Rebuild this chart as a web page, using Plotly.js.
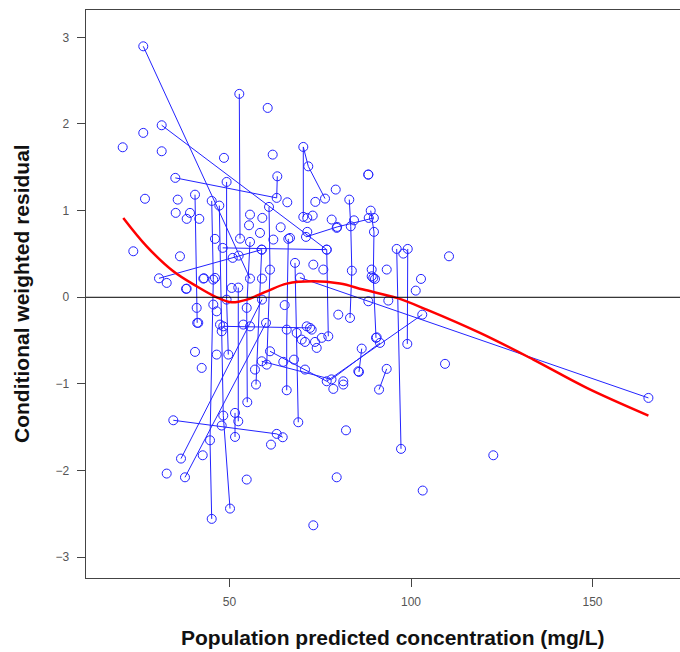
<!DOCTYPE html>
<html>
<head>
<meta charset="utf-8">
<script src="https://cdn.plot.ly/plotly-3.0.1.min.js"></script>
<style>html,body{margin:0;padding:0;background:#fff;overflow:hidden}</style>
</head>
<body>
<div id="chart" style="width:680px;height:652px"></div>
<script>
// Observations grouped by subject (null separates subjects; single points are lone observations)
var predX = [
  26.25,55.65,null,
  31.32,76.78,48.13,null,
  35.07,63.0,63.17,null,
  52.7,52.9,null,
  70.33,70.33,71.7,76.31,null,
  83.0,83.4,83.7,83.2,null,
  88.9,89.8,89.61,90.36,null,
  96.06,97.25,null,
  99.1,98.98,null,
  61.16,76.78,103.1,null,
  165.4,69.4,null,
  93.3,91.2,null,
  34.52,63.0,64.66,null,
  36.64,58.95,null,
  37.74,60.06,null,
  45.1,45.54,44.63,45.1,null,
  47.19,48.29,50.14,null,
  52.42,52.42,null,
  51.52,51.52,null,
  54.9,54.74,55.65,null,
  68.95,68.51,68.04,null,
  65.76,65.76,66.2,null,
  57.3,58.87,null,
  85.67,86.42,null,
  40.5,40.96,41.1,null,
  49.2,49.2,49.67,null,
  60.88,61.16,60.25,null,
  30.58,58.87,null,
  71.07,79.66,89.77,null,
  58.87,78.1,91.46,null,
  48.29,72.18,null,
  77.22,76.78,null,
  20.58,null,26.25,null,31.32,null,26.72,null,35.73,null,35.18,null,38.21,null,39.12,null,41.68,null,
  48.48,null,61.9,null,60.52,null,88.24,null,55.65,null,55.37,null,58.4,null,59.04,null,65.92,null,
  64.1,null,62.07,null,66.67,null,73.64,null,79.26,null,71.43,null,72.92,null,71.43,null,78.15,null,
  79.53,null,84.3,null,88.35,null,97.88,null,110.47,null,23.5,null,36.36,null,46.0,null,50.88,null,
  52.53,null,32.7,null,38.02,null,42.98,null,46.0,null,42.78,null,38.21,null,50.61,null,73.09,null,
  75.84,null,89.17,null,93.31,null,89.17,null,90.08,null,102.75,null,101.3,null,88.24,null,93.75,null,
  45.54,null,46.47,null,41.4,null,53.8,null,47.38,null,47.85,null,55.65,null,71.27,null,72.64,null,
  75.4,null,79.97,null,69.89,null,70.8,null,73.55,null,74.02,null,90.55,null,40.5,null,42.34,null,
  46.47,null,57.02,null,64.82,null,67.77,null,70.8,null,81.35,null,85.48,null,78.6,null,81.35,null,
  109.37,null,47.85,null,82.09,null,61.43,null,42.62,null,54.74,null,32.7,null,122.67,null,
  103.22,null,73.09,null,79.53,null,88.24,null,58.95,null,65.2,null
];
var cwres = [
  2.896,0.216,null,
  1.985,0.550,0.570,null,
  1.378,1.147,1.396,null,
  2.347,0.677,null,
  0.928,1.735,1.511,1.139,null,
  1.127,0.819,0.307,-0.238,null,
  1.0,0.755,0.224,-0.468,null,
  0.558,-1.749,null,
  0.558,-0.538,null,
  -0.623,-0.969,-0.2,null,
  -1.161,0.227,null,
  -0.826,-1.065,null,
  -1.419,-1.576,-1.615,null,
  -1.861,-0.027,null,
  -2.077,-0.295,null,
  1.112,0.204,-1.65,-2.557,null,
  1.058,-1.365,-2.438,null,
  0.112,-1.431,null,
  -1.334,-1.611,null,
  -1.211,-0.122,0.639,null,
  -1.442,-0.411,0.397,null,
  -1.073,-0.373,0.674,null,
  -1.007,0.550,null,
  -0.861,-0.592,null,
  1.184,-0.122,-0.295,null,
  1.331,-0.027,-0.661,null,
  1.043,0.319,-0.777,null,
  0.219,0.550,null,
  0.697,0.812,0.916,null,
  -0.738,-0.947,-0.526,null,
  -0.335,-0.353,null,
  -0.45,0.55,null,
  1.731,null,1.897,null,1.685,null,1.137,null,1.127,null,0.974,null,0.905,null,0.974,null,0.905,null,
  1.609,null,1.646,null,2.185,null,1.416,null,0.954,null,0.831,null,0.743,null,0.916,null,1.096,null,
  0.808,null,0.666,null,0.685,null,1.101,null,1.243,null,0.916,null,0.943,null,0.755,null,0.897,null,
  0.801,null,0.888,null,0.916,null,0.504,null,0.473,null,0.531,null,0.473,null,0.674,null,0.455,null,
  0.481,null,0.166,null,0.097,null,0.219,null,0.224,null,0.216,null,0.1,null,0.108,null,0.377,null,
  0.32,null,0.32,null,0.32,null,0.242,null,0.212,null,0.212,null,0.077,null,-0.046,null,-0.038,null,
  -0.084,null,-0.162,null,-0.295,null,-0.315,null,-0.315,null,-0.392,null,-0.335,null,-0.335,null,-0.373,null,
  -0.468,null,-0.2,null,-0.488,null,-0.515,null,-0.515,null,-0.584,null,-0.462,null,-0.63,null,-0.815,null,
  -0.661,null,-0.834,null,-0.745,null,-0.719,null,-0.834,null,-0.969,null,-0.854,null,-1.057,null,-1.007,null,
  -0.768,null,-1.48,null,-1.535,null,-1.7,null,-1.823,null,-2.103,null,-2.034,null,-1.823,null,
  -2.23,null,-2.631,null,-2.077,null,1.416,null,0.216,null,-0.09,null
];
// Loess smooth (red)
var smoothX = [20.74,27.19,34.52,40.96,46.47,50.61,54.74,60.25,65.76,73.09,80.44,86.86,96.06,104.33,119.0,133.7,148.4,165.4];
var smoothY = [0.916,0.588,0.300,0.127,0.0,-0.058,-0.027,0.069,0.158,0.185,0.158,0.089,-0.007,-0.142,-0.411,-0.719,-1.045,-1.365];

var xTicks = [50,100,150];
var yTicks = [-3,-2,-1,0,1,2,3];

var traces = [
  {x: predX, y: cwres, type: 'scatter', mode: 'lines+markers', connectgaps: false,
   line: {color: 'rgb(35,35,255)', width: 1},
   marker: {symbol: 'circle-open', size: 9, color: 'rgb(35,35,255)', line: {width: 1, color: 'rgb(35,35,255)'}},
   hoverinfo: 'x+y', showlegend: false},
  {x: smoothX, y: smoothY, type: 'scatter', mode: 'lines',
   line: {color: '#ff0000', width: 2.5, shape: 'spline', smoothing: 1},
   showlegend: false}
];

var axisFont = {family: '"Liberation Sans", Arial, sans-serif', size: 12, color: '#555'};
var layout = {
  width: 680, height: 652,
  margin: {l: 86, r: 0, t: 10, b: 74},
  paper_bgcolor: '#fff', plot_bgcolor: '#fff',
  showlegend: false,
  xaxis: {range: [10.47, 174.1], tickvals: xTicks, ticktext: xTicks.map(String),
          showgrid: false, zeroline: false, showline: true, mirror: true,
          linecolor: '#444', linewidth: 1.3, ticks: 'outside', ticklen: 8, tickwidth: 1, tickcolor: '#444',
          tickfont: axisFont, ticklabelstandoff: 4},
  yaxis: {range: [-3.239, 3.315], tickvals: yTicks, ticktext: yTicks.map(function(v){return v < 0 ? '\u2212' + Math.abs(v) : String(v);}),
          showgrid: false, zeroline: false, showline: true, mirror: false,
          linecolor: '#444', linewidth: 1.3, ticks: 'outside', ticklen: 8, tickwidth: 1, tickcolor: '#444',
          tickfont: axisFont, ticklabelstandoff: 5},
  shapes: [{type: 'line', xref: 'paper', x0: 0, x1: 1, yref: 'y', y0: 0, y1: 0,
            line: {color: '#000', width: 1}}],
  annotations: [
    {text: 'Population predicted concentration (mg/L)', xref: 'paper', yref: 'paper',
     x: (393 - 86) / 594, y: -(637 - 578) / 568, xanchor: 'center', yanchor: 'middle', showarrow: false,
     font: {family: '"Liberation Sans", Arial, sans-serif', size: 21, color: '#111', weight: 'bold'}},
    {text: 'Conditional weighted residual', xref: 'paper', yref: 'paper',
     x: -(86 - 21) / 594, y: 0.5, xanchor: 'center', yanchor: 'middle', textangle: -90, showarrow: false,
     font: {family: '"Liberation Sans", Arial, sans-serif', size: 21, color: '#111', weight: 'bold'}}
  ]
};
Plotly.newPlot('chart', traces, layout, {displayModeBar: false, staticPlot: true});
</script>
</body>
</html>
